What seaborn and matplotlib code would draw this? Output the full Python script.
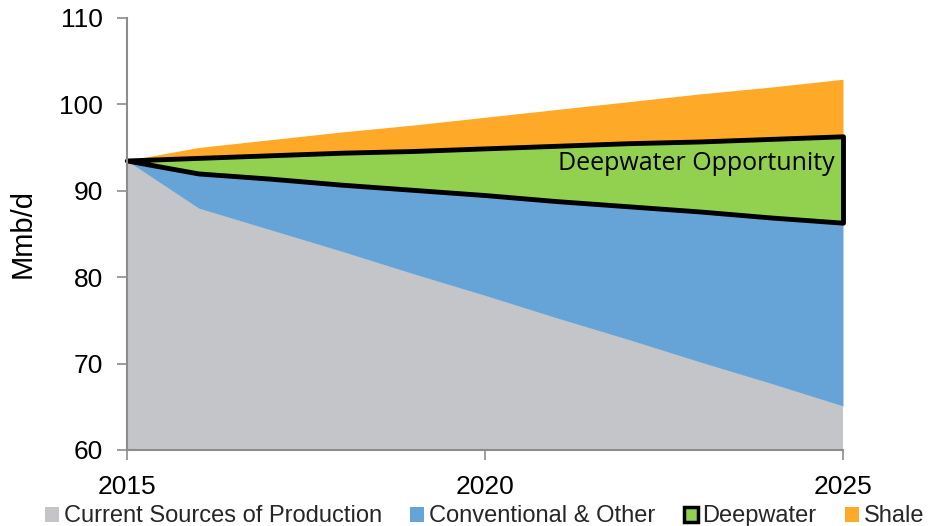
import numpy as np
import matplotlib.pyplot as plt
import seaborn as sns
from matplotlib.patches import Patch

# Values (Mmb/d), stacked bottom to top
years = [2015, 2016, 2017, 2018, 2019, 2020, 2021, 2022, 2023, 2024, 2025]
current = [93.5, 88.0, 85.5, 83.0, 80.4, 77.9, 75.3, 72.8, 70.2, 67.7, 65.1]
conventional = [0.0, 4.0, 5.9, 7.7, 9.7, 11.6, 13.5, 15.4, 17.4, 19.2, 21.2]
deepwater = [0.0, 1.8, 2.7, 3.7, 4.5, 5.4, 6.4, 7.3, 8.1, 9.1, 10.0]
shale = [0.0, 1.2, 1.8, 2.4, 3.0, 3.6, 4.2, 4.8, 5.5, 6.0, 6.6]

labels = ['Current Sources of Production', 'Conventional & Other', 'Deepwater', 'Shale']
colors = ['#C4C5C9', '#66A3D6', '#92D050', '#FFA929']

sns.set_theme(style='white')
plt.rcParams['font.family'] = ['Liberation Sans', 'DejaVu Sans']

fig = plt.figure(figsize=(9.32, 5.26), dpi=100)
ax = fig.add_axes([0.136, 0.1445, 0.7685, 0.8215])

polys = ax.stackplot(years, current, conventional, deepwater, shale,
                     colors=colors, linewidth=0)
polys[2].set_edgecolor('black')
polys[2].set_linewidth(3.5)
polys[2].set_clip_on(False)
polys[2].set_zorder(3)

ax.text(2022.95, 93.1, 'Deepwater Opportunity', ha='center', va='center',
        fontsize=18, family=['Open Sans', 'DejaVu Sans'], color='black', zorder=4)

ax.set_xlim(2015, 2025)
ax.set_ylim(60, 110)
ax.set_xticks([2015, 2020, 2025])
ax.set_yticks([60, 70, 80, 90, 100, 110])
ax.set_ylabel('Mmb/d', fontsize=21, color='black', labelpad=16)
ax.tick_params(axis='both', labelsize=19, colors='black', length=7, width=1.2,
               direction='out', left=True, bottom=True)
ax.tick_params(axis='y', pad=10)
ax.tick_params(axis='x', pad=11)
ax.tick_params(axis='both', color='#8C8C8C')
for side in ['top', 'right']:
    ax.spines[side].set_visible(False)
for side in ['left', 'bottom']:
    ax.spines[side].set_color('#8C8C8C')
    ax.spines[side].set_linewidth(1.5)
    ax.spines[side].set_zorder(5)

handles = []
for lab, col in zip(labels, colors):
    if lab == 'Deepwater':
        handles.append(Patch(facecolor=col, edgecolor='black', linewidth=2.5, label=lab))
    else:
        handles.append(Patch(facecolor=col, edgecolor='none', label=lab))
fig.legend(handles=handles, loc='lower center', bbox_to_anchor=(0.52, -0.043), ncol=4,
           frameon=False, fontsize=17, handlelength=0.6, handleheight=0.6,
           handletextpad=0.2, columnspacing=1.2)

fig.savefig('out.png', dpi=100)
